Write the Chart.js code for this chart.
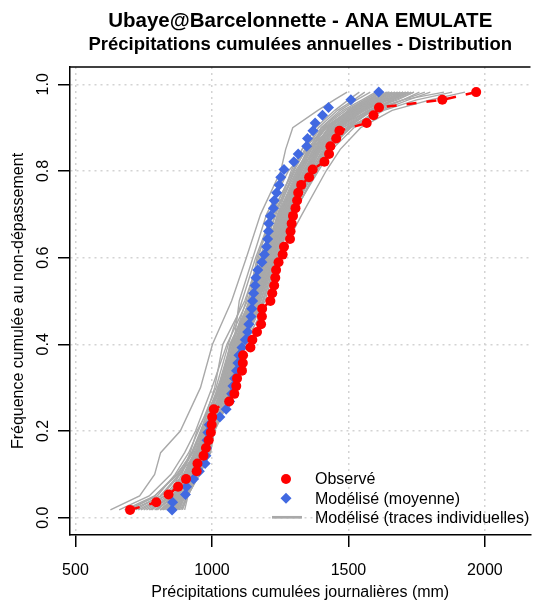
<!DOCTYPE html>
<html>
<head>
<meta charset="utf-8">
<script src="https://cdn.jsdelivr.net/npm/chart.js@4/dist/chart.umd.min.js"></script>
<style>
html,body{margin:0;padding:0;background:#ffffff;}
#wrap{width:536px;height:601px;}
canvas{display:block;}
</style>
</head>
<body>
<div id="wrap"><canvas id="c" width="536" height="601"></canvas></div>
<script>
// ---------------- DATA ----------------
// plotting positions (non-exceedance frequency) of the 55 sorted years
const freq = [0.0179,0.0357,0.0536,0.0714,0.0893,0.1071,0.1250,0.1429,0.1607,0.1786,
  0.1964,0.2143,0.2321,0.2500,0.2679,0.2857,0.3036,0.3214,0.3393,0.3571,
  0.3750,0.3929,0.4107,0.4286,0.4464,0.4643,0.4821,0.5000,0.5179,0.5357,
  0.5536,0.5714,0.5893,0.6071,0.6250,0.6429,0.6607,0.6786,0.6964,0.7143,
  0.7321,0.7500,0.7679,0.7857,0.8036,0.8214,0.8393,0.8571,0.8750,0.8929,
  0.9107,0.9286,0.9464,0.9643,0.9821];

// Observed annual totals (mm), sorted
const observed = [700,796,841,876,905,944,947,969,978,988,
  996,999,1001,1007,1063,1082,1089,1092,1110,1113,
  1114,1141,1148,1165,1180,1183,1184,1214,1221,1228,
  1232,1235,1244,1259,1264,1286,1288,1292,1297,1306,
  1312,1316,1327,1356,1369,1412,1429,1434,1455,1467,
  1567,1592,1612,1844,1968];

// Modelled mean (mm), sorted
const modelMean = [854,856,903,907,933,954,975,978,980,982,
  985,990,1029,1052,1065,1072,1077,1083,1090,1095,
  1099,1110,1122,1131,1135,1143,1146,1149,1153,1158,
  1161,1168,1183,1192,1200,1204,1207,1208,1214,1225,
  1228,1237,1246,1252,1264,1300,1316,1347,1350,1370,
  1378,1405,1427,1509,1611];

// Individual model traces, read at these frequency levels
const traceLevels = [0.018,0.05,0.1,0.15,0.2,0.3,0.4,0.5,0.6,0.7,0.8,0.85,0.9,0.94,0.964,0.982];
const traces = [
  [628,735,790,812,884,958,1002,1072,1126,1178,1252,1270,1296,1388,1448,1495],
  [900,912,950,990,1010,1085,1118,1205,1245,1330,1418,1470,1545,1660,1800,1927],
  [700,790,870,930,960,1010,1040,1120,1175,1235,1290,1330,1420,1520,1600,1640],
  [760,850,890,920,945,1030,1080,1100,1150,1200,1280,1350,1440,1560,1640,1700],
  [820,880,900,940,985,1040,1065,1140,1200,1260,1330,1370,1400,1470,1530,1580],
  [850,870,930,975,995,1060,1100,1160,1190,1230,1310,1390,1480,1590,1700,1760],
  [880,900,940,960,980,1020,1090,1170,1215,1280,1370,1420,1460,1540,1610,1660],
  [740,830,910,960,1000,1070,1110,1180,1230,1290,1350,1380,1430,1500,1570,1620],
  [800,860,920,950,970,1050,1105,1150,1180,1250,1340,1400,1500,1620,1720,1800],
  [870,905,945,985,1005,1080,1115,1190,1235,1295,1390,1440,1520,1600,1660,1700],
  [660,770,850,900,940,1000,1055,1130,1185,1245,1320,1360,1410,1510,1580,1650],
  [780,845,880,930,960,1035,1075,1125,1170,1215,1300,1345,1390,1460,1520,1560],
  [840,890,935,965,990,1045,1090,1165,1220,1275,1360,1410,1470,1570,1680,1740],
  [890,910,955,995,1008,1075,1112,1175,1205,1265,1320,1355,1420,1530,1620,1680],
  [720,810,880,945,975,1025,1070,1145,1210,1270,1345,1395,1450,1550,1650,1720],
  [860,895,925,955,985,1065,1100,1155,1195,1240,1300,1330,1380,1450,1500,1540],
  [810,875,915,970,1000,1055,1085,1135,1165,1225,1305,1360,1450,1580,1700,1850],
  [875,900,948,980,1002,1045,1095,1195,1240,1300,1380,1430,1490,1580,1640,1690],
  [690,800,865,915,950,1015,1060,1110,1160,1220,1295,1340,1400,1480,1550,1600],
  [830,885,928,962,992,1060,1102,1170,1225,1285,1365,1420,1510,1630,1750,1880],
  [770,855,905,942,968,1040,1082,1150,1200,1258,1325,1365,1430,1520,1590,1640],
  [885,908,952,988,1006,1072,1108,1185,1230,1292,1375,1415,1470,1545,1600,1650],
  [730,825,895,935,965,1028,1072,1140,1190,1250,1315,1350,1410,1505,1580,1620],
  [855,892,938,968,996,1058,1098,1162,1212,1270,1355,1400,1455,1540,1610,1670],
  [810,870,925,958,985,1050,1092,1158,1205,1262,1340,1385,1445,1535,1615,1690],
  [845,888,932,962,988,1052,1096,1160,1208,1265,1348,1392,1452,1548,1625,1710],
  [790,862,912,948,975,1038,1080,1148,1198,1255,1330,1372,1425,1515,1585,1645],
  [865,898,942,972,998,1062,1104,1168,1218,1278,1362,1405,1465,1555,1630,1700],
  [750,840,900,938,970,1042,1088,1152,1202,1260,1335,1378,1438,1525,1600,1660],
  [880,902,946,978,1001,1068,1106,1172,1220,1283,1368,1412,1478,1575,1660,1730],
  [825,878,922,955,982,1048,1090,1142,1188,1248,1328,1375,1432,1512,1575,1625],
  [705,815,885,928,962,1032,1078,1155,1210,1268,1342,1388,1448,1530,1595,1650],
  [858,893,936,966,993,1056,1099,1166,1222,1280,1358,1398,1458,1550,1640,1720],
  [775,858,908,944,972,1044,1086,1146,1196,1252,1322,1362,1418,1500,1560,1610],
  [835,886,930,964,994,1062,1110,1178,1226,1286,1372,1425,1495,1590,1670,1740],
  [870,896,940,970,997,1050,1094,1152,1192,1244,1318,1358,1415,1505,1570,1630],
  [680,790,875,925,958,1022,1068,1138,1186,1242,1312,1352,1405,1490,1560,1610],
  [848,884,926,958,986,1054,1103,1172,1228,1288,1375,1428,1498,1585,1660,1720],
  [815,872,918,952,978,1036,1078,1143,1195,1256,1338,1382,1442,1528,1605,1670],
  [892,911,954,992,1009,1078,1114,1188,1236,1298,1385,1432,1505,1610,1700,1780],
  [795,866,914,950,979,1046,1093,1162,1214,1274,1352,1396,1460,1560,1645,1710],
  [862,894,934,960,983,1040,1085,1148,1200,1262,1345,1390,1450,1540,1620,1680]
];

const xTicks = [500,1000,1500,2000];
const yTicks = [0,0.2,0.4,0.6,0.8,1.0];

const legendLabels = ['Observé','Modélisé (moyenne)','Modélisé (traces individuelles)'];
const titleText = 'Ubaye@Barcelonnette - ANA EMULATE';
const subtitleText = 'Précipitations cumulées annuelles - Distribution';
const xTitle = 'Précipitations cumulées journalières (mm)';
const yTitle = 'Fréquence cumulée au non-dépassement';

// ---------------- STYLE ----------------
const FONT = '"Liberation Sans", Arial, Helvetica, sans-serif';
const RED = '#FF0000';
const BLUE = '#4169E1';
const GRAY = '#A9A9A9';
const GRID = '#D3D3D3';

const datasets = [];
datasets.push({
  label: legendLabels[0],
  data: observed.map((x, i) => ({x: x, y: freq[i]})),
  showLine: true,
  borderColor: RED,
  borderWidth: 2.5,
  borderDash: [10, 10],
  backgroundColor: RED,
  pointBackgroundColor: RED,
  pointBorderWidth: 0,
  pointRadius: 5,
  pointStyle: 'circle',
  order: 0
});
datasets.push({
  label: legendLabels[1],
  data: modelMean.map((x, i) => ({x: x, y: freq[i]})),
  showLine: false,
  backgroundColor: BLUE,
  pointBackgroundColor: BLUE,
  pointBorderWidth: 0,
  pointRadius: 5.5,
  pointStyle: 'rectRot',
  order: 1
});
traces.forEach((t, k) => {
  datasets.push({
    label: legendLabels[2] + ' ' + (k + 1),
    data: t.map((x, i) => ({x: x, y: traceLevels[i]})),
    showLine: true,
    borderColor: GRAY,
    borderWidth: 1.4,
    pointRadius: 0,
    order: 2
  });
});

const frameTop = {
  id: 'frameTop',
  afterDraw(chart) {
    const {ctx, chartArea} = chart;
    ctx.save();
    ctx.strokeStyle = '#000';
    ctx.lineWidth = 1.5;
    ctx.beginPath();
    ctx.moveTo(chartArea.left, chartArea.top);
    ctx.lineTo(chartArea.right, chartArea.top);
    ctx.stroke();
    ctx.restore();
  }
};

const rLegend = {
  id: 'rLegend',
  afterDatasetsDraw(chart) {
    const ctx = chart.ctx;
    const sx = 286, tx = 315;
    const ys = [479, 498.3, 517.3];
    ctx.save();
    ctx.fillStyle = RED;
    ctx.beginPath();
    ctx.arc(sx, ys[0], 5, 0, Math.PI * 2);
    ctx.fill();
    ctx.fillStyle = BLUE;
    ctx.beginPath();
    ctx.moveTo(sx, ys[1] - 5.5);
    ctx.lineTo(sx + 5.5, ys[1]);
    ctx.lineTo(sx, ys[1] + 5.5);
    ctx.lineTo(sx - 5.5, ys[1]);
    ctx.closePath();
    ctx.fill();
    ctx.strokeStyle = GRAY;
    ctx.lineWidth = 2.7;
    ctx.beginPath();
    ctx.moveTo(272, ys[2]);
    ctx.lineTo(302, ys[2]);
    ctx.stroke();
    ctx.fillStyle = '#000';
    ctx.font = '16px ' + FONT;
    ctx.textBaseline = 'middle';
    ctx.textAlign = 'left';
    legendLabels.forEach((l, i) => ctx.fillText(l, tx, ys[i] + 1));
    ctx.restore();
  }
};

const axisCommon = {
  grid: {
    color: GRID,
    lineWidth: 1.5,
    drawTicks: true,
    tickLength: 12,
    tickColor: '#000',
    tickWidth: 1.5,
    tickBorderDash: []
  },
  border: {display: true, color: '#000', width: 1.5, dash: [2, 4]}
};

new Chart(document.getElementById('c'), {
  type: 'scatter',
  data: {datasets: datasets},
  options: {
    responsive: false,
    animation: false,
    devicePixelRatio: 1,
    layout: {padding: {left: 0, right: 0, top: 0, bottom: 0}},
    plugins: {
      legend: {display: false},
      tooltip: {enabled: false},
      title: {
        display: true, text: titleText, color: '#000', fullSize: false,
        font: {family: FONT, size: 20.5, weight: 'bold', lineHeight: 1.2},
        padding: {top: 9, bottom: 0}
      },
      subtitle: {
        display: true, text: subtitleText, color: '#000', fullSize: false,
        font: {family: FONT, size: 18.5, weight: 'bold', lineHeight: 1.2},
        padding: {top: 0, bottom: 11.2}
      }
    },
    scales: {
      x: Object.assign({}, axisCommon, {
        type: 'linear',
        position: 'bottom',
        min: 480, max: 2167,
        afterBuildTicks: s => { s.ticks = xTicks.map(v => ({value: v})); },
        afterFit: s => { s.height = 66; },
        ticks: {
          autoSkip: false, minRotation: 0, maxRotation: 0, padding: 14,
          color: '#000', font: {family: FONT, size: 16},
          callback: v => String(v)
        },
        title: {
          display: true, text: xTitle, color: '#000',
          font: {family: FONT, size: 16}, padding: {top: 0, bottom: -1}
        }
      }),
      y: Object.assign({}, axisCommon, {
        type: 'linear',
        position: 'left',
        min: -0.04, max: 1.04,
        afterBuildTicks: s => { s.ticks = yTicks.map(v => ({value: v})); },
        afterFit: s => { s.width = 70; },
        ticks: {
          autoSkip: false, minRotation: 90, maxRotation: 90, crossAlign: 'center', padding: 3.5,
          color: '#000', font: {family: FONT, size: 16},
          callback: v => Number(v).toFixed(1)
        },
        title: {
          display: true, text: yTitle, color: '#000',
          font: {family: FONT, size: 16}, padding: {top: 9, bottom: 0}
        }
      })
    }
  },
  plugins: [frameTop, rLegend]
});
</script>
</body>
</html>
